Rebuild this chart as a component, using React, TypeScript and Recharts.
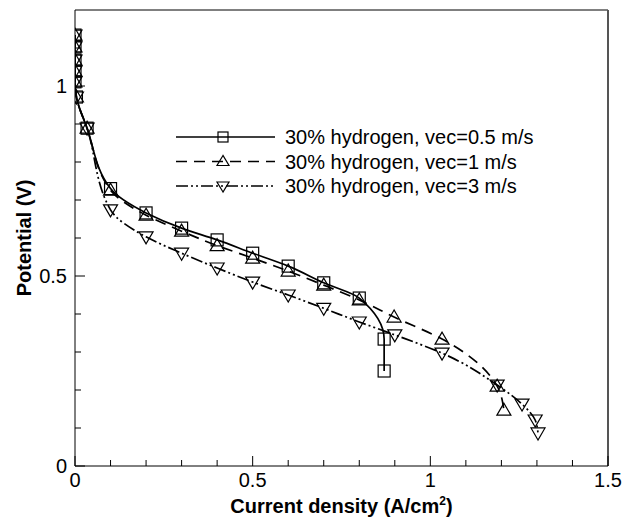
import { LineChart, Line, XAxis, YAxis, ReferenceLine, Legend, Label } from 'recharts';

const FONT = '"Liberation Sans", Arial, Helvetica, sans-serif';

// shared low-current points (all three runs overlap here)
const START_X = [0, 0, 0, 0, 0, 0.004, 0.034];
const START_Y = [1.134, 1.103, 1.068, 1.039, 1.011, 0.971, 0.889];

const VEC05_X = [...START_X, 0.1, 0.2, 0.3, 0.4, 0.5, 0.6, 0.7, 0.8, 0.87, 0.87];
const VEC05_Y = [...START_Y, 0.73, 0.666, 0.626, 0.595, 0.56, 0.526, 0.482, 0.442, 0.334, 0.25];

const VEC1_X = [...START_X, 0.1, 0.2, 0.3, 0.4, 0.5, 0.6, 0.7, 0.8, 0.898, 1.033, 1.188, 1.207];
const VEC1_Y = [...START_Y, 0.726, 0.66, 0.618, 0.58, 0.547, 0.513, 0.476, 0.437, 0.392, 0.334, 0.21, 0.147];

const VEC3_X = [...START_X, 0.1, 0.2, 0.3, 0.4, 0.5, 0.6, 0.7, 0.8, 0.9, 1.033, 1.188, 1.258, 1.295, 1.303];
const VEC3_Y = [...START_Y, 0.674, 0.603, 0.56, 0.521, 0.484, 0.45, 0.415, 0.379, 0.345, 0.297, 0.213, 0.163, 0.121, 0.087];

const SERIES_NAMES = [
  '30% hydrogen, vec=0.5 m/s',
  '30% hydrogen, vec=1 m/s',
  '30% hydrogen, vec=3 m/s',
];

const X_TICKS = [0, 0.1, 0.2, 0.3, 0.4, 0.5, 0.6, 0.7, 0.8, 0.9, 1, 1.1, 1.2, 1.3, 1.4, 1.5];
const X_LABELS = [0, 0.5, 1, 1.5];
const Y_TICKS = [0, 0.1, 0.2, 0.3, 0.4, 0.5, 0.6, 0.7, 0.8, 0.9, 1, 1.1];
const Y_LABELS = [0, 0.5, 1];

const DASH = ['', '11 7', '12 3 2 3 2 3'];

const toPoints = (xs: number[], ys: number[]) => xs.map((x, i) => ({ x, y: ys[i] }));

const isMajor = (list: number[], v: number) => list.some((m) => Math.abs(m - v) < 1e-6);

function Marker({ kind, cx, cy, size }: { kind: number; cx: number; cy: number; size: number }) {
  const h = size / 2;
  if (kind === 0) {
    return <rect x={cx - h} y={cy - h} width={size} height={size} fill="none" stroke="#000" strokeWidth={1.2} />;
  }
  const pts = kind === 1
    ? `${cx},${cy - h - 1} ${cx - h - 1},${cy + h - 1} ${cx + h + 1},${cy + h - 1}`
    : `${cx},${cy + h + 1} ${cx - h - 1},${cy - h + 1} ${cx + h + 1},${cy - h + 1}`;
  return <polygon points={pts} fill="none" stroke="#000" strokeWidth={1.2} />;
}

function dotFor(kind: number) {
  return (p: any) => {
    if (p.cx == null || p.cy == null) return <g key={`e${kind}-${p.index}`} />;
    return (
      <g key={`d${kind}-${p.index}`}>
        <Marker kind={kind} cx={p.cx} cy={p.cy} size={12} />
      </g>
    );
  };
}

function XTick({ x, y, payload }: any) {
  const major = isMajor(X_LABELS, payload.value);
  return (
    <g>
      <line x1={x} y1={y} x2={x} y2={y - (major ? 10 : 6)} stroke="#000" strokeWidth={1} />
      {major && (
        <text x={x} y={y + 21} textAnchor="middle" fontSize={20} fontFamily={FONT} fill="#000">
          {String(payload.value)}
        </text>
      )}
    </g>
  );
}

function YTick({ x, y, payload }: any) {
  const major = isMajor(Y_LABELS, payload.value);
  return (
    <g>
      <line x1={x} y1={y} x2={x + (major ? 10 : 6)} y2={y} stroke="#000" strokeWidth={1} />
      {major && (
        <text x={x - 8} y={y + 7} textAnchor="end" fontSize={20} fontFamily={FONT} fill="#000">
          {String(payload.value)}
        </text>
      )}
    </g>
  );
}

function XTitle({ viewBox }: any) {
  const cx = viewBox.x + viewBox.width / 2;
  return (
    <text x={cx} y={513} textAnchor="middle" fontSize={20} fontWeight="bold" fontFamily={FONT} fill="#000">
      Current density (A/cm<tspan dy={-8} fontSize={12}>2</tspan><tspan dy={8}>)</tspan>
    </text>
  );
}

function YTitle({ viewBox }: any) {
  const cy = viewBox.y + viewBox.height / 2;
  return (
    <text
      x={31}
      y={cy}
      transform={`rotate(-90 31 ${cy})`}
      textAnchor="middle"
      fontSize={20}
      fontWeight="bold"
      fontFamily={FONT}
      fill="#000"
    >
      Potential (V)
    </text>
  );
}

function LegendBox() {
  return (
    <svg width={390} height={80}>
      {SERIES_NAMES.map((name, i) => {
        const y = 15 + i * 24.5;
        return (
          <g key={name}>
            <line x1={6} y1={y} x2={105} y2={y} stroke="#000" strokeWidth={1.6} strokeDasharray={DASH[i] || undefined} />
            <Marker kind={i} cx={53} cy={y} size={10} />
            <text x={115} y={y + 7} fontSize={20} fontFamily={FONT} fill="#000">{name}</text>
          </g>
        );
      })}
    </svg>
  );
}

export default function App() {
  const series = [toPoints(VEC05_X, VEC05_Y), toPoints(VEC1_X, VEC1_Y), toPoints(VEC3_X, VEC3_Y)];

  return (
    <div style={{ width: 622, height: 524, background: '#fff' }}>
      <style>{'body{margin:0}'}</style>
      <LineChart width={622} height={524} margin={{ top: 10, right: 14, left: 0, bottom: 0 }}>
        <XAxis
          dataKey="x"
          type="number"
          domain={[0, 1.5]}
          ticks={X_TICKS}
          interval={0}
          tick={<XTick />}
          tickLine={false}
          tickSize={0}
          tickMargin={0}
          height={58}
          axisLine={{ stroke: '#000', strokeWidth: 1 }}
          allowDataOverflow
        >
          <Label content={<XTitle />} />
        </XAxis>
        <YAxis
          type="number"
          domain={[0, 1.2]}
          ticks={Y_TICKS}
          interval={0}
          tick={<YTick />}
          tickLine={false}
          tickSize={0}
          tickMargin={0}
          width={75}
          axisLine={{ stroke: '#000', strokeWidth: 1 }}
          allowDataOverflow
        >
          <Label content={<YTitle />} />
        </YAxis>

        {/* frame */}
        <ReferenceLine y={1.2} stroke="#000" strokeWidth={1} />
        <ReferenceLine x={1.5} stroke="#555" strokeWidth={2} />

        <Legend
          content={<LegendBox />}
          layout="horizontal"
          verticalAlign="middle"
          align="center"
          wrapperStyle={{ left: 170, top: 122, width: 390, height: 80 }}
        />

        {series.map((pts, i) => (
          <Line
            key={SERIES_NAMES[i]}
            name={SERIES_NAMES[i]}
            data={pts}
            dataKey="y"
            type="monotoneY"
            stroke="#000"
            strokeWidth={1.7}
            strokeDasharray={DASH[i] || undefined}
            dot={dotFor(i)}
            activeDot={false}
            isAnimationActive={false}
          />
        ))}
      </LineChart>
    </div>
  );
}
